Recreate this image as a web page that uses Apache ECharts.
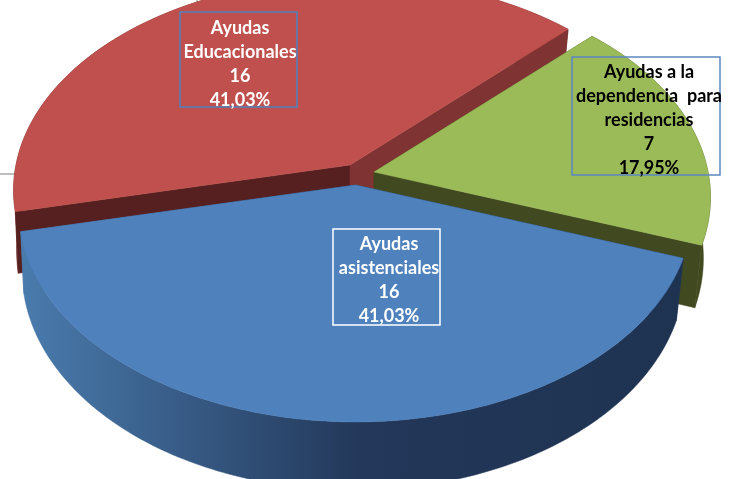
<!DOCTYPE html>
<html>
<head>
<meta charset="utf-8">
<title>Ayudas</title>
<style>
  html, body { margin: 0; padding: 0; background: #fff; }
  #chart { width: 735px; height: 479px; }
</style>
<script src="https://cdn.jsdelivr.net/npm/echarts@6/dist/echarts.min.js"></script>
</head>
<body>
<div id="chart"></div>
<script>
// drawn back to front: red, green, blue
var categories = ['Ayudas\nEducacionales', 'Ayudas a la\ndependencia  para\nresidencias', 'Ayudas\nasistenciales'];
var values = [16, 7, 16];

var total = values.reduce(function (a, b) { return a + b; }, 0);
var startAngle = 167.4;

// look of the fake 3D pie
var radiusX = 334, radiusY = 208.5, tilt = 0.12, depth = 60, bottomScale = 0.985, bottomShift = -2;
var blueWall = { type: 'linear', x: 18, y: 0, x2: 700, y2: 0, global: true,
  colorStops: [{ offset: 0, color: '#4a7cae' }, { offset: 0.5, color: '#23385a' }, { offset: 1, color: '#1e3350' }] };
var sliceStyles = [
  { apex: [350, 165], top: '#c0504d', wall: '#6e2a28', faceStart: '#55201f', faceEnd: '#7f3332',
    box: [180, 12, 117, 95], boxColor: '#4f81bd', text: '#ffffff', textPos: [240, 64] },
  { apex: [374, 172], top: '#9bbb59', wall: '#40491f', faceStart: '#40491f', faceEnd: '#40491f',
    box: [572, 57, 148, 118], boxColor: '#5b88bf', text: '#000000', textPos: [649, 120] },
  { apex: [355.5, 185], top: '#4f81bd', wall: blueWall, faceStart: blueWall, faceEnd: blueWall,
    box: [333, 229, 107, 96], boxColor: '#ffffff', text: '#ffffff', textPos: [389, 280.5] }
];

function rimPoint(s, deg, low) {
  var t = deg * Math.PI / 180;
  var den = 1 - tilt * Math.sin(t);
  var x = radiusX * Math.cos(t) / den;
  var y = radiusY * Math.sin(t) / den;
  // the wall gets taller towards the viewer
  if (low) return [s.apex[0] + x * bottomScale + bottomShift, s.apex[1] + y + depth / den];
  return [s.apex[0] + x, s.apex[1] + y];
}

function arc(s, from, to, low) {
  var pts = [];
  var n = Math.ceil(Math.abs(to - from));
  for (var i = 0; i <= n; i++) {
    pts.push(rimPoint(s, from + (to - from) * i / n, low));
  }
  return pts;
}

function poly(points, fill) {
  return { type: 'polygon', shape: { points: points }, style: { fill: fill, stroke: fill, lineWidth: 0.5 } };
}

function face(s, deg, fill) {
  var a = [s.apex[0], s.apex[1]];
  var b = [s.apex[0], s.apex[1] + depth];
  return poly([a, rimPoint(s, deg), rimPoint(s, deg, true), b], fill);
}

function renderSlice(params, api) {
  var i = params.dataIndex;
  var s = sliceStyles[i];
  var before = 0;
  for (var j = 0; j < i; j++) before += values[j];
  var from = startAngle + before / total * 360;
  var to = from + api.value(1) / total * 360;
  var pct = (api.value(1) / total * 100).toFixed(2).replace('.', ',') + '%';

  return {
    type: 'group',
    children: [
      poly(arc(s, from, to).concat(arc(s, to, from, true)), s.wall),
      face(s, from, s.faceStart),
      face(s, to, s.faceEnd),
      poly([s.apex].concat(arc(s, from, to)), s.top),
      {
        type: 'rect', z2: 20,
        shape: { x: s.box[0], y: s.box[1], width: s.box[2], height: s.box[3] },
        style: { fill: 'none', stroke: s.boxColor, lineWidth: 1.5 }
      },
      {
        type: 'text', z2: 21,
        style: {
          text: categories[i] + '\n' + api.value(1) + '\n' + pct,
          x: s.textPos[0], y: s.textPos[1],
          align: 'center', verticalAlign: 'middle',
          font: 'bold 18px Lato', lineHeight: 24, fill: s.text
        }
      }
    ]
  };
}

var chart = echarts.init(document.getElementById('chart'));
var option = {
  animation: false,
  backgroundColor: '#ffffff',
  graphic: [
    { type: 'line', shape: { x1: 0, y1: 174, x2: 15, y2: 174 }, style: { stroke: '#7f7f7f', lineWidth: 1 } },
    { type: 'line', shape: { x1: 197, y1: 0, x2: 197, y2: 2 }, style: { stroke: '#7f7f7f', lineWidth: 1 } }
  ],
  series: [
    {
      type: 'custom',
      coordinateSystem: 'none',
      renderItem: renderSlice,
      silent: true,
      data: values.map(function (v, i) { return [i, v]; })
    }
  ]
};
chart.setOption(option);
</script>
</body>
</html>
